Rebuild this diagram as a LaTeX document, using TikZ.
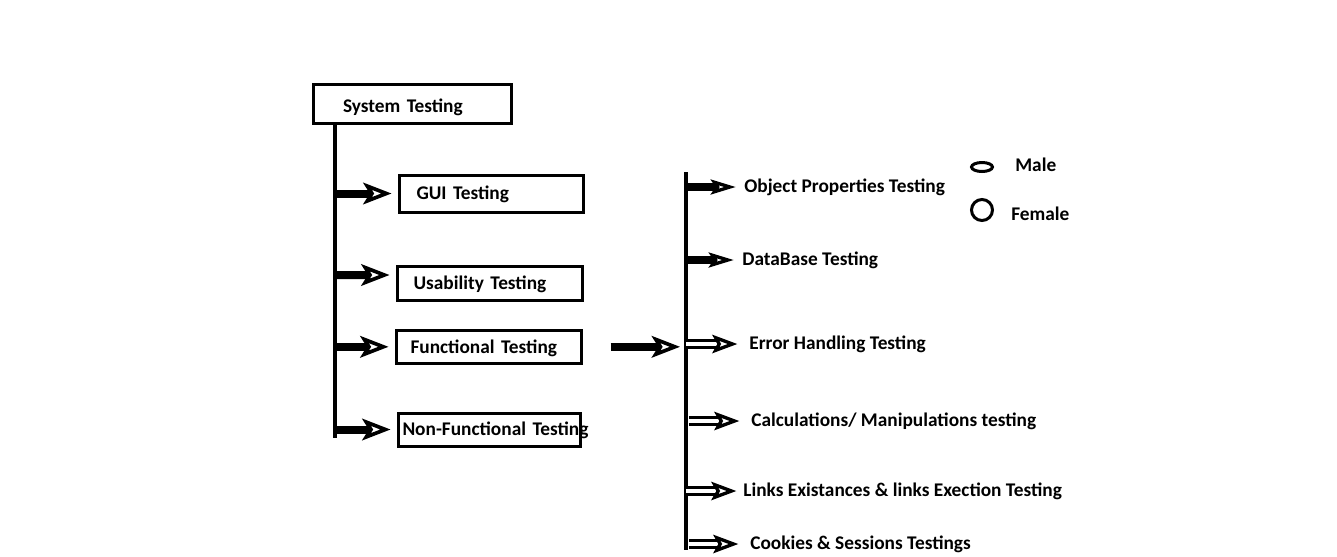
\documentclass[tikz,border=0pt]{standalone}
\usepackage{fontspec}
\setmainfont{Carlito}
\usetikzlibrary{arrows.meta,shapes.geometric}
\tikzset{
  tbox/.style={draw,line width=1.8pt,anchor=north west,align=left,text height=10pt,text depth=2.5pt,font=\fontsize{11.6}{13.5}\selectfont\bfseries},
  lbl/.style={anchor=west,inner sep=0pt,font=\fontsize{11.6}{13.5}\selectfont\bfseries},
  vline/.style={line width=2.4pt},
  farr/.style={line width=4.8pt,-{Stealth[open,length=17pt,width=13pt,inset=4pt,line width=2.2pt]}},
  sarr/.style={line width=4.8pt,-{Stealth[open,length=15pt,width=9pt,inset=3pt,line width=2pt]}},
  harr/.style={line width=1.7pt,double,double distance=2.4pt,-{Stealth[open,length=15pt,width=11pt,inset=3pt,line width=2pt]}},
  leg/.style={draw,line width=1.8pt,inner sep=0pt},
}
\begin{document}
\begin{tikzpicture}[x=0.6pt,y=-0.6pt]
  \useasboundingbox (0,0) rectangle (1337,556);
  % left column
  \node[tbox,inner xsep=18pt,text width=82.8pt,minimum height=23.5pt,text height=13pt] (sys) at (311.5,83) {\mbox{System Testing}};
  \node[tbox,inner xsep=10.5pt,text width=89.4pt,minimum height=22.2pt] (gui) at (397.5,173.5) {\mbox{GUI Testing}};
  \node[tbox,inner xsep=9.9pt,text width=91.2pt,minimum height=20.4pt] (usab) at (395.5,264.5) {\mbox{Usability Testing}};
  \node[tbox,inner xsep=8.7pt,text width=93.6pt,minimum height=19pt,text height=11pt] (func) at (394.5,328.5) {\mbox{Functional Testing}};
  \node[tbox,inner xsep=2.7pt,text width=103.8pt,minimum height=19.8pt] (nonf) at (396.5,411.5) {\mbox{Non-Functional Testing}};
  \coordinate (lb) at (335,438);
  \draw[vline] (sys.south -| lb) -- (lb);
  \draw[farr,shorten >=3.6pt] (lb |- gui.west) -- (gui.west);
  \draw[farr,shorten >=3.6pt] (lb |- usab.west) ++(0,-8) -- ([yshift=4.8pt]usab.west);
  \draw[farr,shorten >=3.6pt] (lb |- func.west) -- (func.west);
  \draw[farr,shorten >=3.6pt] (lb |- nonf.west) -- (nonf.west);
  % right column
  \coordinate (rt) at (686,172);
  \coordinate (rb) at (686,550);
  \draw[vline] (rt) -- (rb);
  \draw[farr,shorten <=16.8pt,shorten >=3.6pt] (func.east) -- (func.east -| rt);
  \node[lbl] (obj) at (744,187) {Object Properties Testing};
  \node[lbl] (db) at (742,260) {DataBase Testing};
  \node[lbl] (err) at (749,344) {Error Handling Testing};
  \node[lbl] (calc) at (751,421) {Calculations/ Manipulations testing};
  \node[lbl] (links) at (743,491) {Links Existances \& links Exection Testing};
  \node[lbl] (cook) at (750,544) {Cookies \& Sessions Testings};
  \draw[sarr,shorten >=5pt] (rt |- obj.west) -- (obj.west);
  \draw[sarr,shorten >=5pt] (rt |- db.west) -- (db.west);
  \draw[harr,shorten >=7pt] (rt |- err.west) -- (err.west);
  \draw[harr,shorten <=2pt,shorten >=7pt] (rt |- calc.west) -- (calc.west);
  \draw[harr,shorten >=4pt] (rt |- links.west) -- (links.west);
  \draw[harr,shorten <=2pt,shorten >=7pt] (rt |- cook.west) -- (cook.west);
  % legend
  \node[leg,ellipse,minimum width=12.6pt,minimum height=5.4pt] (male) at (982,167) {};
  \node[leg,circle,minimum size=12.6pt] (female) at (982,210) {};
  \node[lbl] (malet) at (1015,165) {Male};
  \node[lbl] (femt) at (1011,214) {Female};
\end{tikzpicture}
\end{document}
